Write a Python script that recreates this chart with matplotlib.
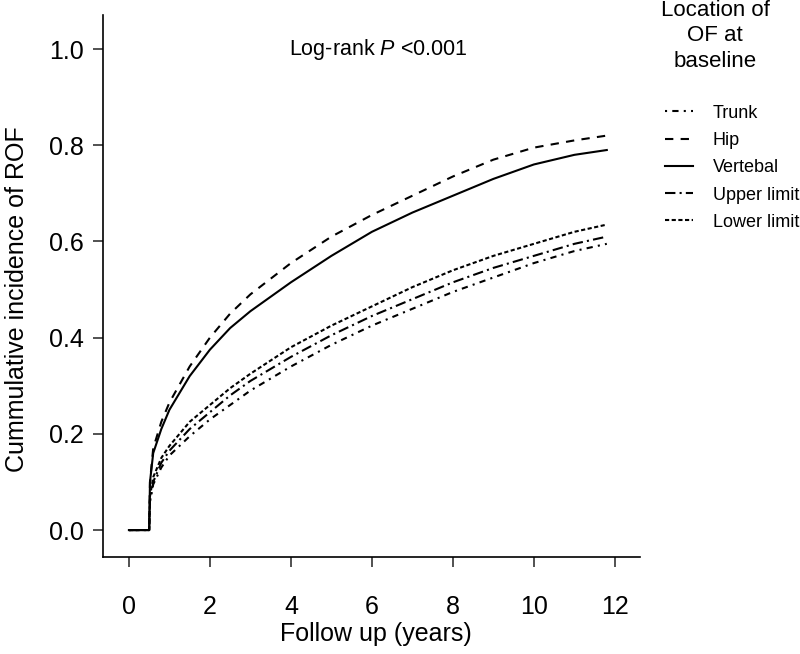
import matplotlib.pyplot as plt
import numpy as np

plt.rcParams['font.family'] = ['Liberation Sans', 'DejaVu Sans']
plt.rcParams['mathtext.fontset'] = 'custom'
plt.rcParams['mathtext.it'] = 'Liberation Sans:italic'
plt.rcParams['mathtext.rm'] = 'Liberation Sans'

# follow-up time (years) and cumulative incidence per fracture site
times = [0, 0.5, 0.52, 0.6, 0.8, 1.0, 1.5, 2, 2.5, 3, 4, 5, 6, 7, 8, 9, 10, 11, 11.8]
trunk = [0, 0, 0.06, 0.095, 0.13, 0.155, 0.195, 0.23, 0.26, 0.29, 0.34, 0.385, 0.425, 0.46, 0.495, 0.525, 0.555, 0.58, 0.595]
hip = [0, 0, 0.10, 0.17, 0.225, 0.265, 0.34, 0.40, 0.45, 0.49, 0.555, 0.61, 0.655, 0.695, 0.735, 0.77, 0.795, 0.81, 0.82]
vertebal = [0, 0, 0.10, 0.16, 0.21, 0.25, 0.32, 0.375, 0.42, 0.455, 0.515, 0.57, 0.62, 0.66, 0.695, 0.73, 0.76, 0.78, 0.79]
upper = [0, 0, 0.06, 0.10, 0.14, 0.165, 0.21, 0.245, 0.28, 0.31, 0.36, 0.405, 0.445, 0.48, 0.515, 0.545, 0.57, 0.595, 0.61]
lower = [0, 0, 0.07, 0.11, 0.15, 0.175, 0.225, 0.26, 0.295, 0.325, 0.38, 0.425, 0.465, 0.505, 0.54, 0.57, 0.595, 0.62, 0.635]

labels = ['Trunk', 'Hip', 'Vertebal', 'Upper limit', 'Lower limit']
series = [trunk, hip, vertebal, upper, lower]
styles = [(0, (1, 2.5, 3, 2.5)), (0, (4, 3.5)), '-', (0, (5, 2, 1, 2)), (0, (2, 1.2))]

fig = plt.figure(figsize=(8, 6.54), dpi=100)
ax = fig.add_axes([0.12875, 0.1483, 0.67125, 0.829])

for y, ls, lab in zip(series, styles, labels):
    ax.plot(times, y, color='black', linestyle=ls, linewidth=1.5, label=lab)

ax.set_xlim(-0.64, 12.62)
ax.set_ylim(-0.056, 1.071)
ax.set_xticks(np.arange(0, 13, 2))
ax.set_yticks(np.arange(0, 1.01, 0.2))
ax.set_yticklabels(['%.1f' % v for v in np.arange(0, 1.01, 0.2)])
ax.spines['top'].set_visible(False)
ax.spines['right'].set_visible(False)
for s in ['left', 'bottom']:
    ax.spines[s].set_linewidth(1.2)
ax.tick_params(labelsize=18, length=7, width=1.2, color='#333333')
ax.tick_params(axis='x', pad=20)
ax.tick_params(axis='y', pad=7)

ax.set_xlabel('Follow up (years)', fontsize=18)
ax.xaxis.label.set_va('center')
ax.xaxis.set_label_coords(0.508, -0.142)
ax.set_ylabel('Cummulative incidence of ROF', fontsize=18)
ax.yaxis.label.set_va('center')
ax.yaxis.set_label_coords(-0.16, 0.475)

ax.text(6.15, 1.0, 'Log-rank $P$ <0.001', fontsize=15.5, ha='center', va='center')

fig.text(0.894, 0.945, 'Location of\nOF at\nbaseline', fontsize=16, ha='center',
         va='center', linespacing=1.3)
leg = fig.legend(loc='upper left', bbox_to_anchor=(0.83125, 0.840), frameon=False,
                 fontsize=13, handlelength=1.55, handletextpad=1.1,
                 labelspacing=0.57, borderpad=0, borderaxespad=0)

fig.savefig('out.png', dpi=100)
